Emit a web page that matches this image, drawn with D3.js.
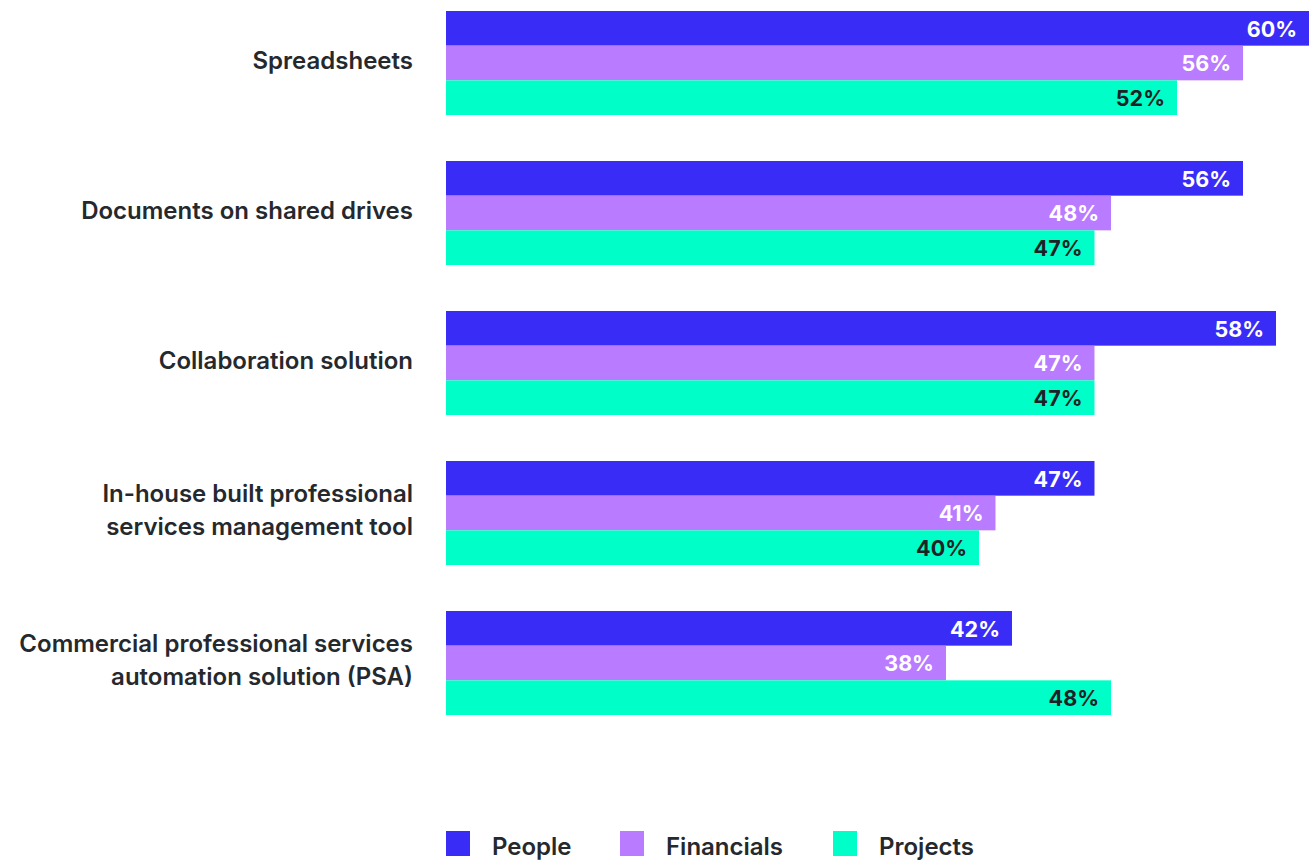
<!DOCTYPE html>
<html>
<head>
<meta charset="utf-8">
<title>Tools used to manage people, financials and projects</title>
<script src="https://d3js.org/d3.v7.min.js"></script>
<style>
  body { margin: 0; background: #fff; }
  svg { display: block; font-family: Inter, "Noto Sans", sans-serif; }
</style>
</head>
<body>
<svg id="chart" width="1309" height="864"></svg>
<script>
// data
const categories = [
  ["Spreadsheets"],
  ["Documents on shared drives"],
  ["Collaboration solution"],
  ["In-house built professional", "services management tool"],
  ["Commercial professional services", "automation solution (PSA)"]
];
const seriesNames = ["People", "Financials", "Projects"];
const people     = [60, 56, 58, 47, 42];
const financials = [56, 48, 47, 41, 38];
const projects   = [52, 47, 47, 40, 48];

const colors = ["#3a2cf7", "#b97bff", "#00ffc8"];
const labelColors = ["#ffffff", "#ffffff", "#1e2226"];
const textColor = "#25292d";

const values = [people, financials, projects];
const rows = categories.map((c, i) => ({
  key: i, lines: c,
  vals: seriesNames.map((s, j) => ({ series: s, j: j, v: values[j][i] }))
}));

const svg = d3.select("#chart");

// the bars in the picture don't start at zero: the axis is cut at ~7.7%
const x = d3.scaleLinear().domain([7.7, 60]).range([446, 1309]);
const y0 = d3.scaleBand().domain(rows.map(d => d.key)).range([11, 715]).paddingInner(0.3067).paddingOuter(0);
const y1 = d3.scaleBand().domain(d3.range(seriesNames.length)).range([0, y0.bandwidth()]);

const g = svg.selectAll("g.cat").data(rows).join("g")
  .attr("class", "cat")
  .attr("transform", d => "translate(0," + y0(d.key) + ")");

g.selectAll("rect").data(d => d.vals).join("rect")
  .attr("x", x(7.7))
  .attr("y", d => y1(d.j))
  .attr("width", d => x(d.v) - x(7.7))
  .attr("height", y1.bandwidth())
  .attr("fill", d => colors[d.j]);

g.selectAll("text.val").data(d => d.vals).join("text")
  .attr("class", "val")
  .attr("x", d => x(d.v) - 12)
  .attr("y", d => y1(d.j) + y1.bandwidth() / 2)
  .attr("dy", "0.38em")
  .attr("text-anchor", "end")
  .attr("font-size", 21.5)
  .attr("font-weight", 700)
  .attr("fill", d => labelColors[d.j])
  .text(d => d.v + "%");

// category labels
const lineH = 33;
g.append("text")
  .attr("class", "cat-label")
  .attr("text-anchor", "end")
  .attr("font-size", 24)
  .attr("font-weight", 600)
  .attr("fill", textColor)
  .each(function (d) {
    const t = d3.select(this);
    const mid = y0.bandwidth() / 2 - 3;
    d.lines.forEach((ln, k) => {
      t.append("tspan")
        .attr("x", 413)
        .attr("y", mid + (k - (d.lines.length - 1) / 2) * lineH)
        .attr("dy", "0.36em")
        .text(ln);
    });
  });

// legend
const legendX = [446, 620, 833];
const lg = svg.selectAll("g.legend").data(seriesNames).join("g")
  .attr("class", "legend")
  .attr("transform", (d, i) => "translate(" + legendX[i] + ",831)");
lg.append("rect").attr("width", 24).attr("height", 25).attr("fill", (d, i) => colors[i]);
lg.append("text")
  .attr("x", 46).attr("y", 24)
  .attr("font-size", 24).attr("font-weight", 600).attr("fill", textColor)
  .text(d => d);
</script>
</body>
</html>
